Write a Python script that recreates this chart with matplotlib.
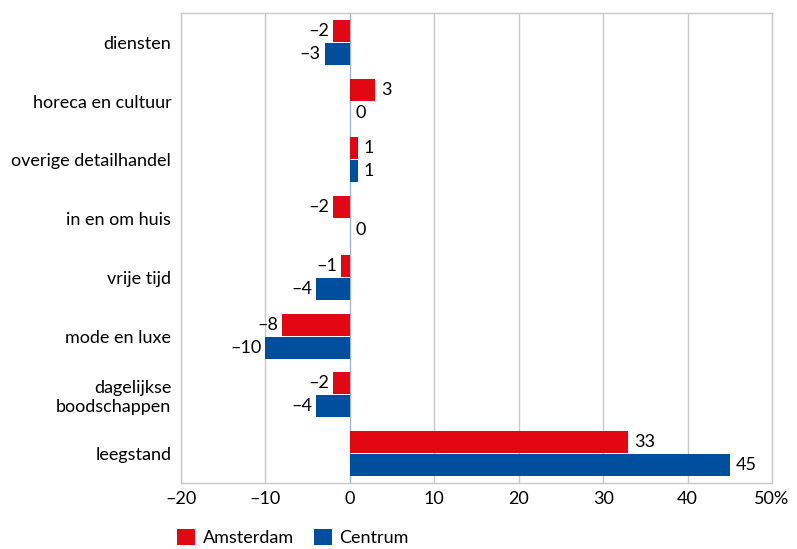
import matplotlib
matplotlib.use("Agg")
import matplotlib.pyplot as plt
import numpy as np

plt.rcParams['font.family'] = ['Lato', 'DejaVu Sans']
plt.rcParams['font.size'] = 13

categories = ["diensten", "horeca en cultuur", "overige detailhandel", "in en om huis",
              "vrije tijd", "mode en luxe", "dagelijkse\nboodschappen", "leegstand"]
amsterdam = [-2, 3, 1, -2, -1, -8, -2, 33]
centrum = [-3, 0, 1, 0, -4, -10, -4, 45]
xticks = [-20, -10, 0, 10, 20, 30, 40, 50]
xticklabels = ["\u201320", "\u201310", "0", "10", "20", "30", "40", "50%"]

red = "#e30613"
blue = "#004f9f"
grey = "#c8c8c8"

fig = plt.figure(figsize=(7.97, 5.49), dpi=100)
ax = fig.add_axes([181 / 797, 1 - 483 / 549, (772 - 181) / 797, (483 - 13) / 549])

y = np.arange(len(categories))
h = 0.375
b1 = ax.barh(y - h / 2 - 0.01, amsterdam, height=h, color=red, label="Amsterdam", zorder=3)
b2 = ax.barh(y + h / 2 + 0.01, centrum, height=h, color=blue, label="Centrum", zorder=3)

def fmt(v):
    return "\u2013" + str(abs(v)) if v < 0 else str(v)

for bars, vals in ((b1, amsterdam), (b2, centrum)):
    for bar, v in zip(bars, vals):
        yc = bar.get_y() + bar.get_height() / 2
        if v < 0:
            ax.annotate(fmt(v), (v, yc), xytext=(-3, 0), textcoords="offset points",
                        ha="right", va="center")
        else:
            ax.annotate(fmt(v), (v, yc), xytext=(4, 0), textcoords="offset points",
                        ha="left", va="center")

ax.set_ylim(len(categories) - 0.5, -0.5)
ax.set_xlim(-20, 50)
ax.set_yticks(y)
ax.set_yticklabels(categories, ha="right", multialignment="right")
ax.tick_params(axis="y", length=0, pad=7)
ax.set_xticks(xticks)
ax.set_xticklabels(xticklabels)
ax.tick_params(axis="x", length=0, pad=6)
ax.grid(axis="x", color=grey, linewidth=1, zorder=0)
ax.axvline(0, color="#a0b4cc", linewidth=0.8, zorder=2)
for s in ax.spines.values():
    s.set_color(grey)
    s.set_linewidth(1)

fig.legend(handles=[b1, b2], loc="lower left", bbox_to_anchor=(161 / 797, -0.024),
           ncol=2, frameon=False, handlelength=1.0, handleheight=1.0,
           columnspacing=1.1, handletextpad=0.4)

fig.savefig("out.png", dpi=100)
